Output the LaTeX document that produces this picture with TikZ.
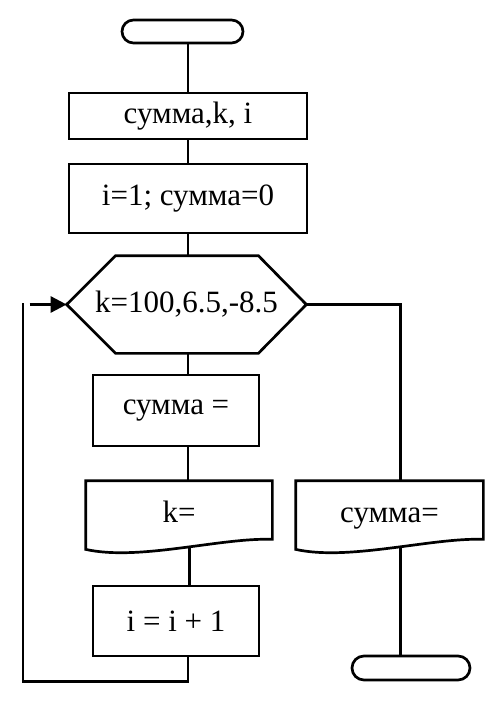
\documentclass[tikz,border=0pt]{standalone}
\usepackage{fontspec}
\setmainfont{Liberation Serif}
\usetikzlibrary{arrows.meta,shapes.misc}

\begin{document}
\begin{tikzpicture}[x=1pt, y=-1pt, line width=2.7pt,
  font=\fontsize{31}{37}\selectfont,
  term/.style={draw, rounded rectangle, inner sep=0pt},
  proc/.style={draw, rectangle, inner sep=0pt},
  slot/.style={rectangle, inner sep=0pt},
  docslot/.style={slot, text height=24pt, text depth=0pt},
  arr/.style={-{Triangle[length=16pt, width=16pt]}}]
\useasboundingbox (0,0) rectangle (493,707);
\coordinate (axis) at (188,0);

% blocks of the main column
\node[term, minimum width=121pt, minimum height=23pt] (start) at (182.5,31.5) {};
\node[proc, minimum width=238pt, minimum height=46pt] (vars) at (188,116) {сумма,k, i};
\node[proc, minimum width=238pt, minimum height=69pt] (init) at (188,198.5) {i=1; сумма=0};
\node[slot, minimum width=237pt, minimum height=95pt] (hex) at (186.5,304.5) {k=100,6.5,-8.5};
\draw (hex.west) -- ([xshift=49pt]hex.north west) -- ([xshift=-48pt]hex.north east)
  -- (hex.east) -- ([xshift=-48pt]hex.south east) -- ([xshift=49pt]hex.south west) -- cycle;
\node[proc, minimum width=166pt, minimum height=71pt] (sumset) at (176,410.5) {сумма =};
\node[docslot, minimum width=184pt, minimum height=56pt] (kout) at (179,510) {k=};
\node[proc, minimum width=166pt, minimum height=70pt] (inc) at (176,621) {i = i + 1};

% output and end on the right
\node[docslot, minimum width=185pt, minimum height=56pt] (sumout) at (389.5,510) {сумма=};
\node[term, minimum width=118pt, minimum height=24pt] (stop) at (411,668) {};

% document outlines
\foreach \d in {kout,sumout}{
  \draw (\d.north west) -- (\d.north east) -- (\d.south east)
    .. controls +(-51,-2) and +(53,12) .. coordinate[pos=0.45] (\d-w)
    ([yshift=-10pt]\d.south west) -- cycle;}

% connectors
\draw (start.south -| axis) -- (vars.north -| axis);
\draw (vars.south -| axis) -- (init.north -| axis);
\draw (init.south -| axis) -- (hex.north -| axis);
\draw (hex.south -| axis) -- (sumset.north -| axis);
\draw (sumset.south -| axis) -- (kout.north -| axis);
\draw (kout-w) -- (kout-w |- inc.north);
\coordinate (looptop) at (23,303);
\draw (inc.south -| axis) -- ++(0,24) -| (looptop);
\draw[arr] ([xshift=-37pt]hex.west) -- (hex.west);
\draw (hex.east) -| (sumout-w |- sumout.north);
\draw (sumout-w) -- (sumout-w |- stop.north);

\end{tikzpicture}
\end{document}
